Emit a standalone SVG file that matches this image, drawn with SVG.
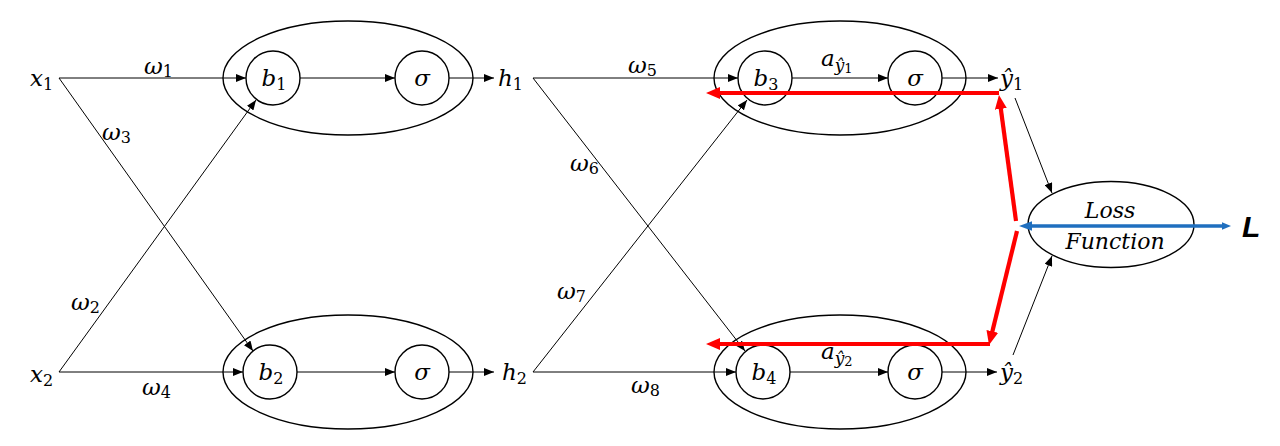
<svg xmlns="http://www.w3.org/2000/svg" width="1280" height="446" viewBox="0 0 1280 446">
<style>
.bg{fill:#fff}
.shape{fill:none;stroke:#000;stroke-width:1.4}
.conn{fill:none;stroke:#000;stroke-width:1}
.red{fill:none;stroke:#ff0000;stroke-width:4.2}
.blue{fill:none;stroke:#1f6fbf;stroke-width:3.4}
.m{font-family:"DejaVu Serif","Liberation Serif",serif;font-style:italic;font-size:23px;fill:#000}
.s{font-style:normal;font-size:16px}
.si{font-style:italic;font-size:17px}
.ss{font-style:normal;font-size:13px}
.lf{font-family:"DejaVu Serif","Liberation Serif",serif;font-style:italic;font-size:22px;fill:#000}
.L{font-family:"Liberation Sans",Arial,sans-serif;font-style:italic;font-weight:bold;font-size:30px;fill:#000}
</style>
<defs>
<marker id="ah" markerUnits="userSpaceOnUse" markerWidth="10" markerHeight="8" refX="10" refY="4" orient="auto"><path d="M0,0 L10,4 L0,8 z" fill="#000"/></marker>
<marker id="rh" markerUnits="userSpaceOnUse" markerWidth="15" markerHeight="12" refX="1" refY="6" orient="auto"><path d="M0,0 L14,6 L0,12 z" fill="#ff0000"/></marker>
</defs>
<rect class="bg" x="0" y="0" width="1280" height="446"/>

<g id="connectors">
<path class="conn" d="M59,78 L246,78" marker-end="url(#ah)"/>
<path class="conn" d="M59,78 L253,351" marker-end="url(#ah)"/>
<path class="conn" d="M59,372 L256,100" marker-end="url(#ah)"/>
<path class="conn" d="M59,372 L243,372" marker-end="url(#ah)"/>
<path class="conn" d="M300,78 L395,78" marker-end="url(#ah)"/>
<path class="conn" d="M449,78 L494,78" marker-end="url(#ah)"/>
<path class="conn" d="M297,372 L395,372" marker-end="url(#ah)"/>
<path class="conn" d="M449,372 L494,372" marker-end="url(#ah)"/>
<path class="conn" d="M533,78 L738,78" marker-end="url(#ah)"/>
<path class="conn" d="M533,78 L745,351" marker-end="url(#ah)"/>
<path class="conn" d="M533,372 L747,100" marker-end="url(#ah)"/>
<path class="conn" d="M533,372 L736,372" marker-end="url(#ah)"/>
<path class="conn" d="M792,78 L888,78" marker-end="url(#ah)"/>
<path class="conn" d="M942,78 L998,78" marker-end="url(#ah)"/>
<path class="conn" d="M790,372 L888,372" marker-end="url(#ah)"/>
<path class="conn" d="M942,372 L997,372" marker-end="url(#ah)"/>
<path class="conn" d="M1015,98 L1052,193" marker-end="url(#ah)"/>
<path class="conn" d="M1013,355 L1052,256" marker-end="url(#ah)"/>
</g>

<g id="node-x1"><text class="m" x="30" y="86">x<tspan class="s" dy="4">1</tspan></text></g>
<g id="node-x2"><text class="m" x="30" y="382">x<tspan class="s" dy="4">2</tspan></text></g>

<g id="node-h1-neuron">
<ellipse class="shape" cx="348" cy="78" rx="125" ry="57"/>
<circle class="shape" cx="273" cy="78" r="27"/>
<text class="m" x="274" y="86" text-anchor="middle">b<tspan class="s" dy="4">1</tspan></text>
<circle class="shape" cx="422" cy="78" r="27"/>
<text class="m" x="422" y="86" text-anchor="middle">σ</text>
</g>
<g id="node-h2-neuron">
<ellipse class="shape" cx="348" cy="372" rx="125" ry="57"/>
<circle class="shape" cx="270" cy="372" r="27"/>
<text class="m" x="271" y="380" text-anchor="middle">b<tspan class="s" dy="4">2</tspan></text>
<circle class="shape" cx="422" cy="372" r="27"/>
<text class="m" x="422" y="380" text-anchor="middle">σ</text>
</g>

<g id="node-h1"><text class="m" x="498" y="86">h<tspan class="s" dy="4">1</tspan></text></g>
<g id="node-h2"><text class="m" x="502" y="380">h<tspan class="s" dy="4">2</tspan></text></g>

<g id="node-y1-neuron">
<ellipse class="shape" cx="840" cy="78" rx="126" ry="57"/>
<circle class="shape" cx="765" cy="78" r="27"/>
<text class="m" x="766" y="86" text-anchor="middle">b<tspan class="s" dy="4">3</tspan></text>
<circle class="shape" cx="915" cy="78" r="27"/>
<text class="m" x="915" y="86" text-anchor="middle">σ</text>
</g>
<g id="node-y2-neuron">
<ellipse class="shape" cx="840" cy="372" rx="126" ry="57"/>
<circle class="shape" cx="763" cy="372" r="27"/>
<text class="m" x="764" y="380" text-anchor="middle">b<tspan class="s" dy="4">4</tspan></text>
<circle class="shape" cx="915" cy="372" r="27"/>
<text class="m" x="915" y="380" text-anchor="middle">σ</text>
</g>

<g id="node-yhat1"><text class="m" x="1000" y="86">ŷ<tspan class="s" dy="4">1</tspan></text></g>
<g id="node-yhat2"><text class="m" x="1000" y="380">ŷ<tspan class="s" dy="4">2</tspan></text></g>

<g id="node-loss">
<ellipse class="shape" cx="1111" cy="224.5" rx="83" ry="43"/>
<text class="lf" x="1110" y="218" text-anchor="middle">Loss</text>
<text class="lf" x="1115" y="249" text-anchor="middle">Function</text>
</g>
<g id="node-L"><text class="L" x="1242" y="237">L</text></g>

<g id="weights">
<text class="m" x="144" y="74">ω<tspan class="s" dy="3">1</tspan></text>
<text class="m" x="102" y="140">ω<tspan class="s" dy="3">3</tspan></text>
<text class="m" x="71" y="310">ω<tspan class="s" dy="3">2</tspan></text>
<text class="m" x="142" y="395">ω<tspan class="s" dy="3">4</tspan></text>
<text class="m" x="628" y="73">ω<tspan class="s" dy="3">5</tspan></text>
<text class="m" x="570" y="171">ω<tspan class="s" dy="3">6</tspan></text>
<text class="m" x="557" y="299">ω<tspan class="s" dy="3">7</tspan></text>
<text class="m" x="631" y="393">ω<tspan class="s" dy="3">8</tspan></text>
<text class="m" x="821" y="66">a<tspan class="si" dy="5">ŷ</tspan><tspan class="ss" dy="2">1</tspan></text>
<text class="m" x="821" y="359">a<tspan class="si" dy="5">ŷ</tspan><tspan class="ss" dy="2">2</tspan></text>
</g>

<g id="backprop">
<path class="red" d="M1016,221 L1000.7,107.9" marker-end="url(#rh)"/>
<path class="red" d="M999,93 L719,93" marker-end="url(#rh)"/>
<path class="red" d="M1017,231 L992.1,332.4" marker-end="url(#rh)"/>
<path class="red" d="M990,344 L719,344" marker-end="url(#rh)"/>
<path class="blue" d="M1031,226 L1224,226"/>
<polygon points="1019,226 1032,221.3 1032,230.7" fill="#1f6fbf"/>
<polygon points="1231,226 1222,222.3 1222,229.7" fill="#1f6fbf"/>
</g>
</svg>
